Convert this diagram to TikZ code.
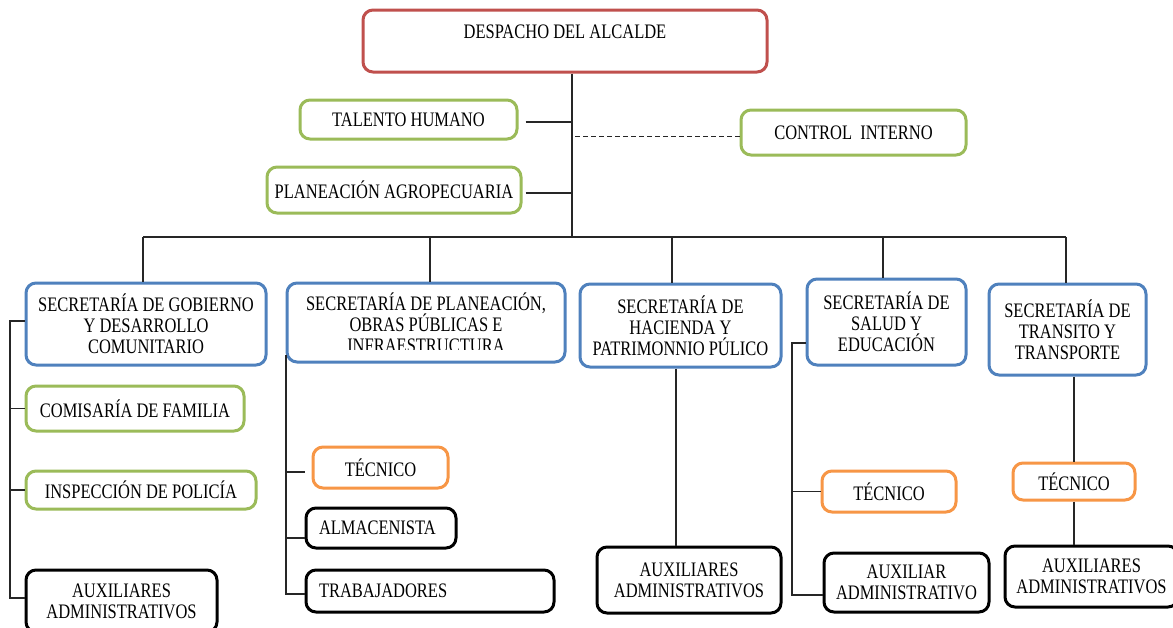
\documentclass[tikz,border=0pt]{standalone}
\usepackage{fontspec}
\setmainfont{Liberation Serif}[FakeStretch=0.8]
\definecolor{cred}{HTML}{C0504D}
\definecolor{cgreen}{HTML}{9BBB59}
\definecolor{cblue}{HTML}{4F81BD}
\definecolor{corange}{HTML}{F79646}
\begin{document}
\begin{tikzpicture}[x=0.5pt,y=-0.5pt,
  bx/.style={draw, rounded corners=5pt, line width=1.5pt, fill=white, align=center,
    inner sep=0pt, font=\fontsize{10.3}{10.5}\selectfont},
  redbox/.style={bx, draw=cred},
  greenbox/.style={bx, draw=cgreen},
  bluebox/.style={bx, draw=cblue},
  orangebox/.style={bx, draw=corange},
  blackbox/.style={bx, draw=black},
  conn/.style={line width=0.8pt, black!85}]
\useasboundingbox[fill=white] (0,0) rectangle (1173,627);

% top level
\node[redbox, minimum width=202pt, text height=14pt, text depth=17pt] (desp) at (565,41) {DESPACHO DEL ALCALDE};
\node[greenbox, minimum width=108.5pt, minimum height=19.5pt] (talento) at (408.5,119.5) {TALENTO HUMANO};
\node[greenbox, minimum width=112.5pt, minimum height=22.5pt] (control) at (853.5,132.5) {CONTROL\ \ INTERNO};
\node[greenbox, minimum width=127pt, minimum height=23pt] (planagro) at (394,190) {PLANEACIÓN AGROPECUARIA};

% secretarias
\node[bluebox, minimum width=120pt, minimum height=41pt] (gob) at (146,324) {SECRETARÍA DE GOBIERNO\\Y DESARROLLO\\COMUNITARIO};
\node[bluebox, minimum width=139pt, minimum height=39.5pt] (plan) at (426,322.5) {SECRETARÍA DE PLANEACIÓN,\\OBRAS PÚBLICAS E\\INFRAESTRUCTURA};
\fill[white] (293,350) rectangle (558,358);
\node[bluebox, minimum width=100.5pt, minimum height=41.5pt] (hac) at (680.5,325.5) {SECRETARÍA DE\\HACIENDA Y\\PATRIMONNIO PÚLICO};
\node[bluebox, minimum width=79.5pt, minimum height=43pt] (sal) at (886.5,322) {SECRETARÍA DE\\SALUD Y\\EDUCACIÓN};
\node[bluebox, minimum width=78.5pt, minimum height=45.5pt] (tra) at (1067.5,329.5) {SECRETARÍA DE\\TRANSITO Y\\TRANSPORTE};

% gobierno column
\node[greenbox, minimum width=109pt, minimum height=22.5pt] (comis) at (135,408.5) {COMISARÍA DE FAMILIA};
\node[greenbox, minimum width=115pt, minimum height=19pt] (insp) at (141,490) {INSPECCIÓN DE POLICÍA};
\node[blackbox, minimum width=95.5pt, minimum height=31pt] (auxg) at (121.5,601) {AUXILIARES\\ADMINISTRATIVOS};

% planeacion column
\node[orangebox, minimum width=67.5pt, minimum height=20.5pt] (tecp) at (380.5,467.5) {TÉCNICO};
\node[blackbox, minimum height=20pt, text width=62pt, inner xsep=6.5pt, align=left] (alm) at (381,528) {ALMACENISTA};
\node[blackbox, minimum height=21pt, text width=111pt, inner xsep=6.5pt, align=left] (trab) at (430,591) {TRABAJADORES};

% hacienda column
\node[blackbox, minimum width=92pt, minimum height=33pt] (auxh) at (689,580) {AUXILIARES\\ADMINISTRATIVOS};

% salud column
\node[orangebox, minimum width=67pt, minimum height=20.5pt] (tecs) at (889,491.5) {TÉCNICO};
\node[blackbox, minimum width=82.5pt, minimum height=29.5pt] (auxs) at (906.5,582.5) {AUXILIAR\\ADMINISTRATIVO};

% transito column
\node[orangebox, minimum width=61pt, minimum height=18.5pt] (tect) at (1074,481.5) {TÉCNICO};
\node[blackbox, minimum width=86.5pt, minimum height=30.5pt] (auxt) at (1091.5,576.5) {AUXILIARES\\ADMINISTRATIVOS};

% coordinates
\coordinate (trunk) at (572,237);
\coordinate (lsp) at (10,321);
\coordinate (psp) at (286,355);
\coordinate (ssp) at (792,343);

% top connectors
\draw[conn] (trunk |- desp.south) -- (trunk);
\draw[conn] ([xshift=3.5pt,yshift=-1.2pt]talento.east) -- ([yshift=-1.2pt]talento.east -| trunk);
\draw[conn] ([xshift=1.5pt,yshift=-1.5pt]planagro.east) -- ([yshift=-1.5pt]planagro.east -| trunk);
\draw[conn, dashed, dash pattern=on 2.5pt off 1.5pt] ([yshift=-2pt]control.west) -- ([yshift=-2pt]control.west -| trunk);

% bus and drops
\draw[conn] ([xshift=-1.5pt]gob.north |- trunk) -- ([xshift=-0.75pt]tra.north |- trunk);
\draw[conn] ([xshift=-1.5pt]gob.north |- trunk) -- ([xshift=-1.5pt]gob.north);
\draw[conn] ([xshift=2pt]plan.north |- trunk) -- ([xshift=2pt]plan.north);
\draw[conn] ([xshift=-4.25pt]hac.north |- trunk) -- ([xshift=-4.25pt]hac.north);
\draw[conn] ([xshift=-1.75pt]sal.north |- trunk) -- ([xshift=-1.75pt]sal.north);
\draw[conn] ([xshift=-0.75pt]tra.north |- trunk) -- ([xshift=-0.75pt]tra.north);

% gobierno spine
\draw[conn] ([yshift=1.5pt]gob.west) -- ([yshift=1.5pt]gob.west -| lsp) |- ([yshift=1.5pt]auxg.west);
\draw[conn] (comis.west -| lsp) -- (comis.west);
\draw[conn] (insp.west -| lsp) -- (insp.west);

% planeacion spine
\draw[conn] (psp) |- ([yshift=-1.5pt]trab.west);
\draw[conn] ([yshift=-2.25pt]tecp.west -| psp) -- ([xshift=-3.5pt,yshift=-2.25pt]tecp.west);
\draw[conn] ([yshift=-5pt]alm.west -| psp) -- ([yshift=-5pt]alm.west);

% hacienda
\draw[conn] ([xshift=-2.25pt]hac.south) -- ([xshift=-2.25pt]hac.south |- auxh.north);

% salud spine
\draw[conn] ([yshift=-10.5pt]sal.west) -- (ssp) |- ([yshift=-6.25pt]auxs.west);
\draw[conn] (tecs.west -| ssp) -- (tecs.west);

% transito
\draw[conn] (tect.north |- tra.south) -- (tect.north);
\draw[conn] (tect.south) -- (tect.south |- auxt.north);
\end{tikzpicture}
\end{document}
